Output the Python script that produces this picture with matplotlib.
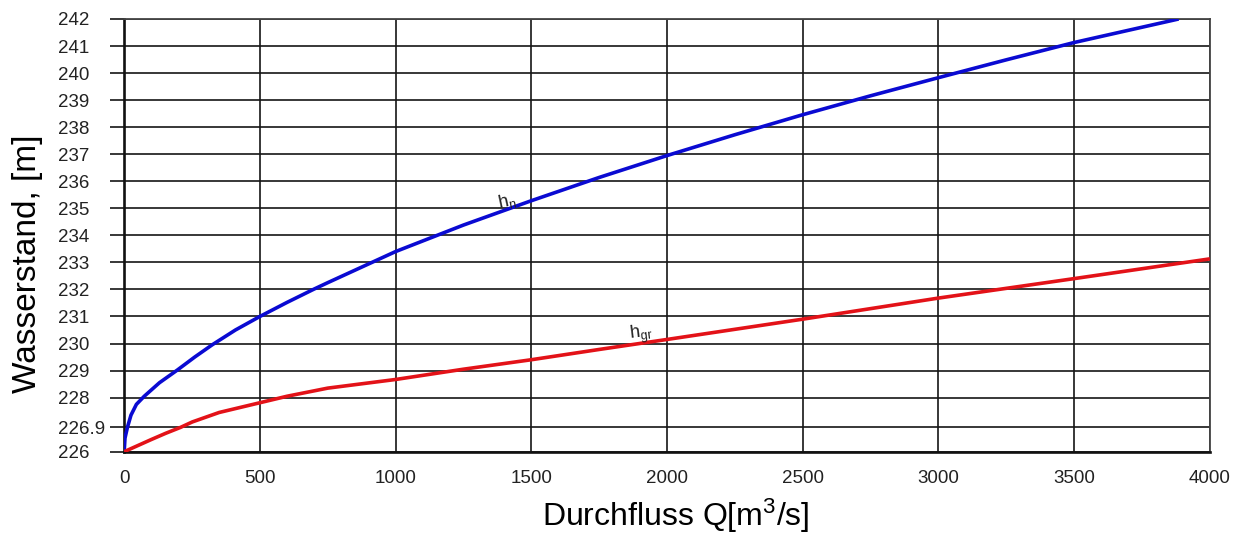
import matplotlib
matplotlib.use("Agg")
import matplotlib.pyplot as plt

plt.rcParams["font.family"] = ["Liberation Sans", "DejaVu Sans"]
plt.rcParams["mathtext.fontset"] = "custom"
plt.rcParams["mathtext.rm"] = "Liberation Sans"
plt.rcParams["mathtext.it"] = "Liberation Sans"

# Normal water depth h_n over discharge
q_hn = [0, 3, 12, 25, 45, 74, 130, 196, 260, 324, 410, 500, 600, 697, 750,
        1000, 1250, 1500, 1750, 2000, 2250, 2500, 2750, 3000, 3250, 3500,
        3885]
h_n = [226.0, 226.5, 226.9, 227.35, 227.75, 228.05, 228.55, 229.02, 229.5,
       229.95, 230.5, 231.0, 231.52, 232.0, 232.25, 233.4, 234.38, 235.28,
       236.14, 236.95, 237.72, 238.46, 239.16, 239.83, 240.49, 241.13, 242.0]

# Critical water depth h_gr over discharge
q_hgr = [0, 100, 153, 208, 251, 350, 500, 600, 750, 1000, 1250, 1500, 1750,
         2000, 2500, 3000, 3500, 4000]
h_gr = [226.0, 226.45, 226.68, 226.9, 227.1, 227.45, 227.81, 228.05, 228.35,
        228.67, 229.05, 229.4, 229.78, 230.15, 230.9, 231.68, 232.4, 233.13]

x_ticks = [0, 500, 1000, 1500, 2000, 2500, 3000, 3500, 4000]
y_ticks = [226, 226.9, 228, 229, 230, 231, 232, 233, 234, 235, 236, 237, 238,
           239, 240, 241, 242]
y_tick_labels = ["226", "226.9", "228", "229", "230", "231", "232", "233",
                 "234", "235", "236", "237", "238", "239", "240", "241", "242"]

fig = plt.figure(figsize=(12.38, 5.36), dpi=100)
ax = fig.add_axes([0.1003, 0.1573, 0.8770, 0.8073])

ax.set_xlim(0, 4000)
ax.set_ylim(226, 242)
ax.set_xticks(x_ticks)
ax.set_xticklabels([str(t) for t in x_ticks])
ax.set_yticks(y_ticks)
ax.set_yticklabels(y_tick_labels)

ax.grid(True, color="#151515", linewidth=1.2)
ax.set_axisbelow(True)

# y labels are left-aligned in a column left of the outward ticks
ax.tick_params(axis="y", length=10, width=1.2, color="#151515", pad=37.4,
               labelsize=13.5, labelcolor="#222222")
for lbl in ax.get_yticklabels():
    lbl.set_horizontalalignment("left")
ax.tick_params(axis="x", length=0, pad=13, labelsize=13.5, labelcolor="#222222")

for side in ["left", "bottom"]:
    ax.spines[side].set_linewidth(1.9)
    ax.spines[side].set_color("#111111")
for side in ["top", "right"]:
    ax.spines[side].set_linewidth(1.3)
    ax.spines[side].set_color("#444444")

ax.plot(q_hn, h_n, color="#0a0ad2", linewidth=2.6, solid_capstyle="butt",
        zorder=3)
ax.plot(q_hgr, h_gr, color="#e31218", linewidth=2.6, solid_capstyle="butt",
        zorder=3)

ax.text(1370, 235.0, r"h$_{\mathrm{n}}$", fontsize=13, rotation=12,
        ha="left", va="baseline", color="#222222", zorder=4)
ax.text(1855, 230.15, r"h$_{\mathrm{gr}}$", fontsize=13, rotation=7,
        ha="left", va="baseline", color="#222222", zorder=4)

ax.set_xlabel(r"Durchfluss Q[m$^{3}$/s]", fontsize=23, va="center")
ax.xaxis.set_label_coords(0.508, -0.148)
ax.set_ylabel("Wasserstand, [m]", fontsize=24, va="center")
ax.yaxis.set_label_coords(-0.0894, 0.434)

fig.savefig("out.png", dpi=100, facecolor="white")
